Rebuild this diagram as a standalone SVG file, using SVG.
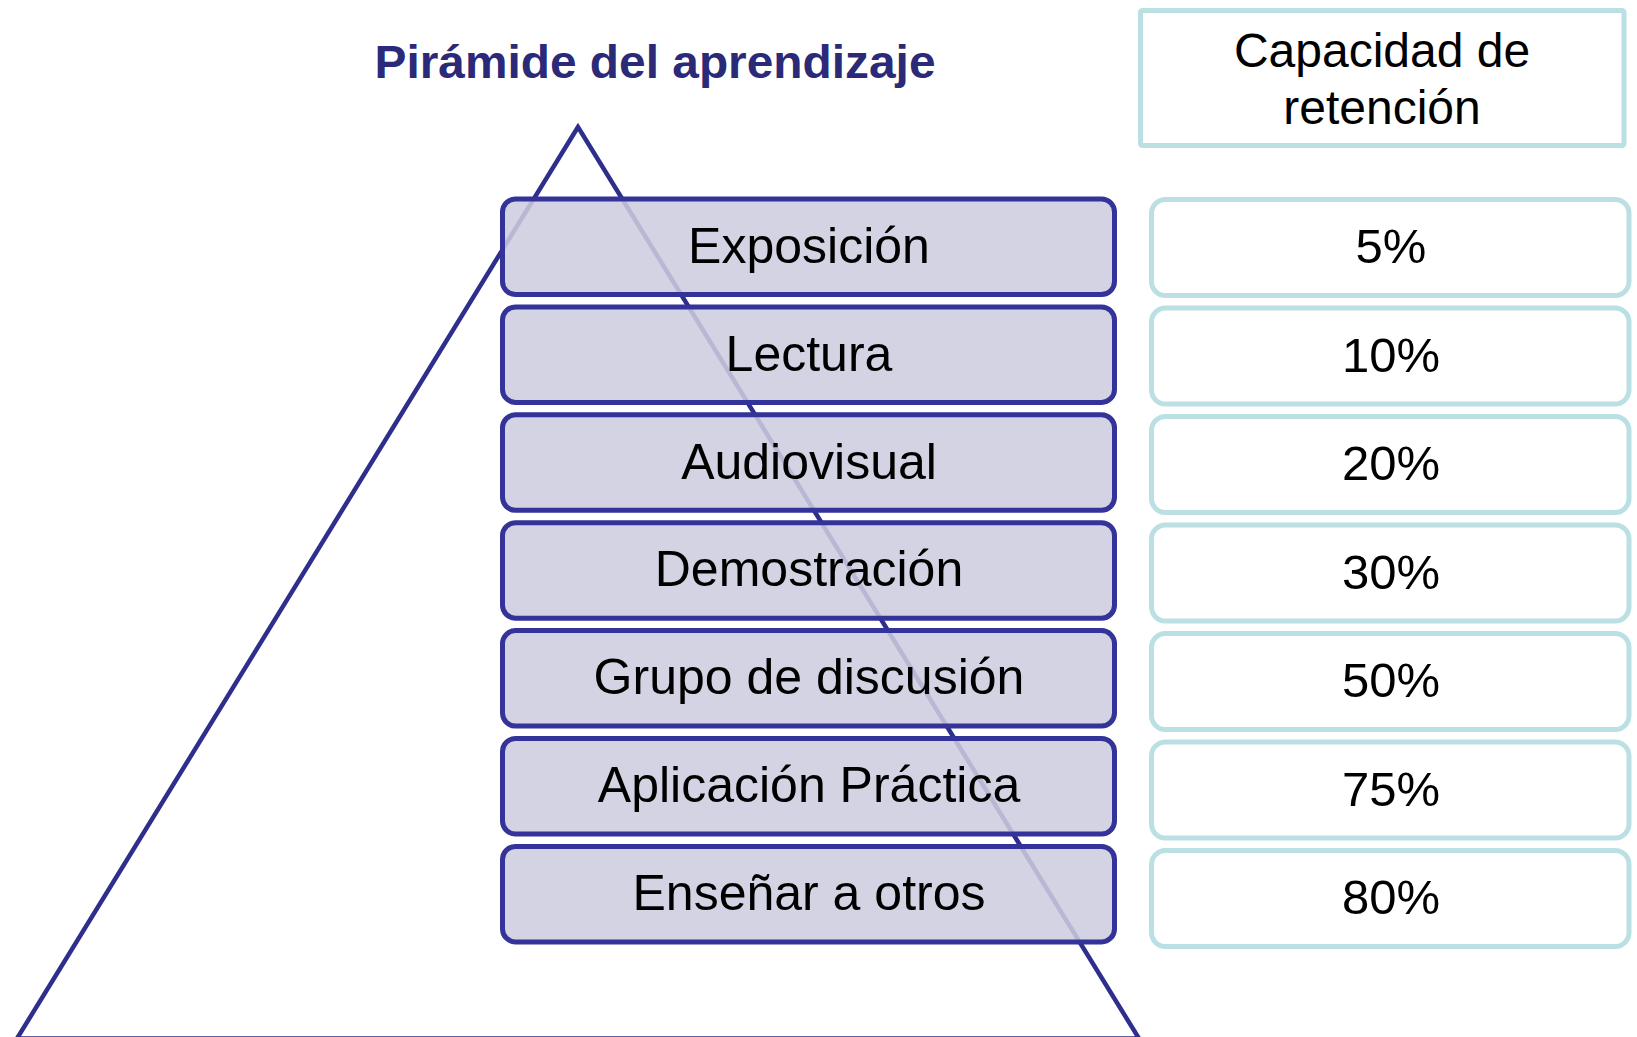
<svg xmlns="http://www.w3.org/2000/svg" width="1637" height="1037" viewBox="0 0 1637 1037">
  <style>
    .title { font-family: "Liberation Sans", Arial, sans-serif; font-weight: bold; font-size: 47px; fill: #2a2a78; text-anchor: middle; }
    .level rect { fill: #ccccdf; fill-opacity: 0.87; stroke: #333399; stroke-width: 5; }
    .level text { font-family: "Liberation Sans", Arial, sans-serif; font-size: 50px; fill: #000; text-anchor: middle; }
    .pct rect { fill: #ffffff; stroke: #bbe0e3; stroke-width: 5; }
    .pct text { font-family: "Liberation Sans", Arial, sans-serif; font-size: 49px; fill: #000; text-anchor: middle; }
    .head text { font-family: "Liberation Sans", Arial, sans-serif; font-size: 48px; fill: #000; text-anchor: middle; }
    .head rect { fill: #ffffff; stroke: #bbe0e3; stroke-width: 5; }
  </style>
  <rect x="0" y="0" width="1637" height="1037" fill="#ffffff"/>

  <g id="title">
    <text class="title" x="655" y="78" textLength="561" lengthAdjust="spacingAndGlyphs">Pirámide del aprendizaje</text>
  </g>

  <g id="pyramid">
    <polygon points="578,127 17,1038.5 1139,1038.5" fill="none" stroke="#2e2e8c" stroke-width="4.5" stroke-linejoin="miter"/>
  </g>

  <g id="header" class="head">
    <rect x="1140.5" y="10.5" width="483.5" height="135" rx="2"/>
    <text x="1382" y="67">Capacidad de</text>
    <text x="1382" y="124">retención</text>
  </g>

  <g id="level-1" class="level">
    <rect x="502.5" y="199" width="612" height="95.5" rx="13"/>
    <text x="809" y="262.7">Exposición</text>
  </g>
  <g id="level-2" class="level">
    <rect x="502.5" y="306.9" width="612" height="95.5" rx="13"/>
    <text x="809" y="370.6">Lectura</text>
  </g>
  <g id="level-3" class="level">
    <rect x="502.5" y="414.8" width="612" height="95.5" rx="13"/>
    <text x="809" y="478.5">Audiovisual</text>
  </g>
  <g id="level-4" class="level">
    <rect x="502.5" y="522.7" width="612" height="95.5" rx="13"/>
    <text x="809" y="586.4">Demostración</text>
  </g>
  <g id="level-5" class="level">
    <rect x="502.5" y="630.6" width="612" height="95.5" rx="13"/>
    <text x="809" y="694.3">Grupo de discusión</text>
  </g>
  <g id="level-6" class="level">
    <rect x="502.5" y="738.5" width="612" height="95.5" rx="13"/>
    <text x="809" y="802.2">Aplicación Práctica</text>
  </g>
  <g id="level-7" class="level">
    <rect x="502.5" y="846.4" width="612" height="95.5" rx="13"/>
    <text x="809" y="910.1">Enseñar a otros</text>
  </g>

  <g id="pct-1" class="pct">
    <rect x="1151.5" y="199.5" width="477.5" height="96" rx="14"/>
    <text x="1391" y="263.3">5%</text>
  </g>
  <g id="pct-2" class="pct">
    <rect x="1151.5" y="308" width="477.5" height="96" rx="14"/>
    <text x="1391" y="371.8">10%</text>
  </g>
  <g id="pct-3" class="pct">
    <rect x="1151.5" y="416.5" width="477.5" height="96" rx="14"/>
    <text x="1391" y="480.3">20%</text>
  </g>
  <g id="pct-4" class="pct">
    <rect x="1151.5" y="525" width="477.5" height="96" rx="14"/>
    <text x="1391" y="588.8">30%</text>
  </g>
  <g id="pct-5" class="pct">
    <rect x="1151.5" y="633.5" width="477.5" height="96" rx="14"/>
    <text x="1391" y="697.3">50%</text>
  </g>
  <g id="pct-6" class="pct">
    <rect x="1151.5" y="742" width="477.5" height="96" rx="14"/>
    <text x="1391" y="805.8">75%</text>
  </g>
  <g id="pct-7" class="pct">
    <rect x="1151.5" y="850.5" width="477.5" height="96" rx="14"/>
    <text x="1391" y="914.3">80%</text>
  </g>

  <g id="connectors"></g>
</svg>
